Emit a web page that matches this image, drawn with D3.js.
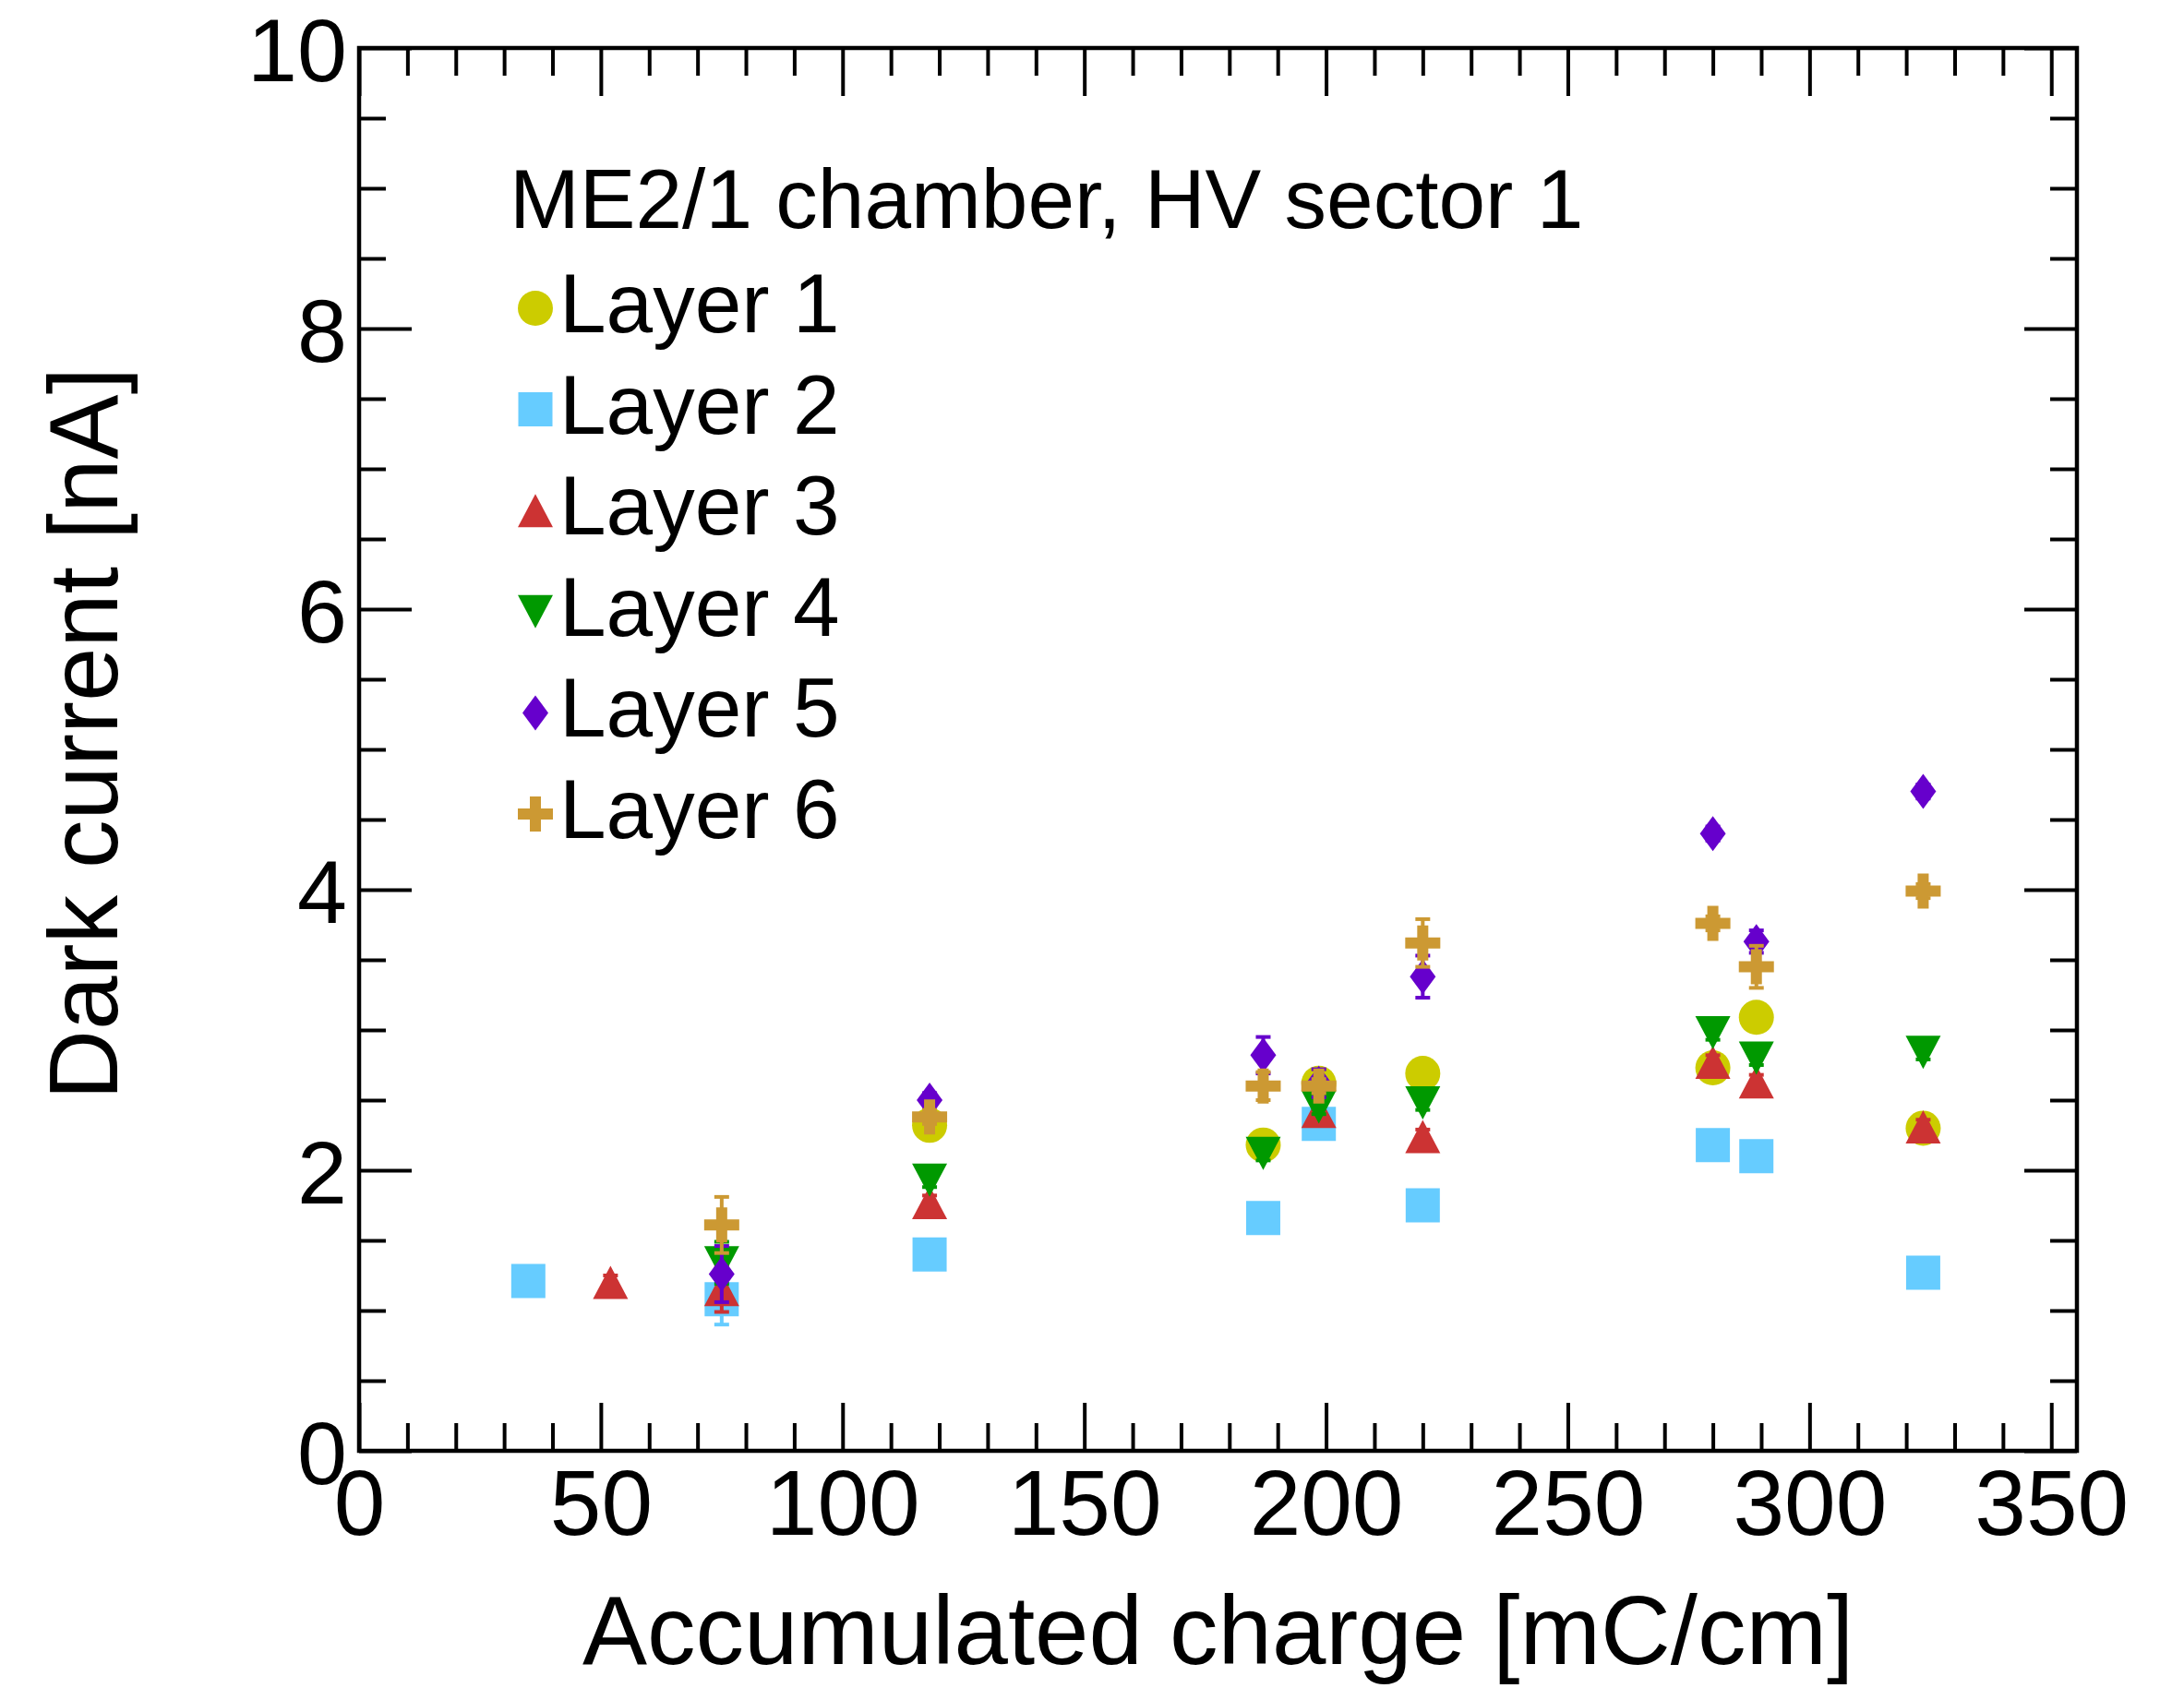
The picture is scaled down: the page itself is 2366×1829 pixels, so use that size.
<!DOCTYPE html>
<html>
<head>
<meta charset="utf-8">
<script src="https://cdn.jsdelivr.net/npm/d3@7"></script>
<style>
  body { margin: 0; background: #fff; }
  text { font-family: "Liberation Sans", Arial, Helvetica, sans-serif; fill: #000; }
</style>
</head>
<body>
<svg id="chart" width="2366" height="1829"></svg>
<script>
// Dark current of each layer versus accumulated charge (ME2/1, HV sector 1)
const layerNames = ["Layer 1", "Layer 2", "Layer 3", "Layer 4", "Layer 5", "Layer 6"];
const layerColors = ["#cccc00", "#66ccff", "#cc3333", "#009900", "#6600cc", "#cc9933"];
const layerShapes = ["circle", "square", "triUp", "triDown", "diamond", "cross"];

// accumulated charge [mC/cm], dark current [nA], current uncertainty [nA]
const layer1Charge = [118, 187, 198.5, 220, 280, 289, 323.5];
const layer1Current = [2.32, 2.18, 2.62, 2.69, 2.73, 3.09, 2.30];
const layer1Error = [0.05, 0.05, 0.05, 0.05, 0.05, 0.05, 0.05];

const layer2Charge = [35, 75, 118, 187, 198.5, 220, 280, 289, 323.5];
const layer2Current = [1.21, 1.08, 1.40, 1.66, 2.33, 1.75, 2.18, 2.10, 1.27];
const layer2Error = [0.05, 0.18, 0.05, 0.05, 0.05, 0.05, 0.05, 0.05, 0.05];

const layer3Charge = [52, 75, 118, 198.5, 220, 280, 289, 323.5];
const layer3Current = [1.20, 1.15, 1.77, 2.42, 2.24, 2.77, 2.63, 2.31];
const layer3Error = [0.05, 0.16, 0.05, 0.05, 0.05, 0.05, 0.05, 0.05];

const layer4Charge = [75, 118, 187, 198.5, 220, 280, 289, 323.5];
const layer4Current = [1.34, 1.93, 2.12, 2.45, 2.48, 2.98, 2.80, 2.84];
const layer4Error = [0.15, 0.05, 0.05, 0.05, 0.05, 0.05, 0.05, 0.05];

const layer5Charge = [75, 118, 187, 198.5, 220, 280, 289, 323.5];
const layer5Current = [1.26, 2.50, 2.82, 2.62, 3.38, 4.40, 3.63, 4.70];
const layer5Error = [0.2, 0.05, 0.13, 0.1, 0.15, 0.05, 0.08, 0.05];

const layer6Charge = [75, 118, 187, 198.5, 220, 280, 289, 323.5];
const layer6Current = [1.61, 2.38, 2.60, 2.60, 3.62, 3.76, 3.45, 3.99];
const layer6Error = [0.2, 0.05, 0.1, 0.05, 0.17, 0.05, 0.15, 0.05];

const xMajorTicks = [0, 50, 100, 150, 200, 250, 300, 350];
const yMajorTicks = [0, 2, 4, 6, 8, 10];

const chargeSets = [layer1Charge, layer2Charge, layer3Charge, layer4Charge, layer5Charge, layer6Charge];
const currentSets = [layer1Current, layer2Current, layer3Current, layer4Current, layer5Current, layer6Current];
const errorSets = [layer1Error, layer2Error, layer3Error, layer4Error, layer5Error, layer6Error];

const series = layerNames.map((name, i) => ({
  name, color: layerColors[i], shape: layerShapes[i],
  points: chargeSets[i].map((c, j) => ({ x: c, y: currentSets[i][j], e: errorSets[i][j] }))
}));

const frame = { left: 389, right: 2250, top: 52, bottom: 1572 };
const x = d3.scaleLinear().domain([0, 355.3]).range([frame.left, frame.right]);
const y = d3.scaleLinear().domain([0, 10]).range([frame.bottom, frame.top]);

const svg = d3.select("#chart");
svg.append("rect").attr("width", 2366).attr("height", 1829).attr("fill", "#fff");

// marker outlines centred on (0,0)
function shapePath(shape) {
  switch (shape) {
    case "square": return "M-18.5,-18.5h37v37h-37Z";
    case "triUp": return "M0,-18L19,18L-19,18Z";
    case "triDown": return "M0,18L19,-18L-19,-18Z";
    case "diamond": return "M0,-19L14,0L0,19L-14,0Z";
    case "cross": return "M-6,-19h12v13h13v12h-13v13h-12v-13h-13v-12h13Z";
    default: return d3.arc()({ innerRadius: 0, outerRadius: 19, startAngle: 0, endAngle: 2 * Math.PI });
  }
}

// axes with inward ticks on all four sides
const xMinor = d3.range(0, 356, 10).filter(v => v % 50 !== 0);
const yMinor = d3.range(0, 10.01, 0.5).filter(v => Math.abs(v / 2 - Math.round(v / 2)) > 1e-6);

function styleAxis(g, size) {
  g.select(".domain").remove();
  g.selectAll(".tick line").attr("stroke", "#000").attr("stroke-width", 4);
  g.selectAll("text").attr("font-family", null).style("font-size", (size || 100) + "px").attr("fill", "#000");
}

svg.append("g").attr("transform", `translate(0,${frame.bottom})`)
  .call(d3.axisBottom(x).tickValues(xMajorTicks).tickSize(-52).tickPadding(20).tickFormat(d3.format("d")))
  .call(styleAxis);
svg.append("g").attr("transform", `translate(0,${frame.bottom})`)
  .call(d3.axisBottom(x).tickValues(xMinor).tickSize(-30).tickFormat(""))
  .call(styleAxis);
svg.append("g").attr("transform", `translate(0,${frame.top})`)
  .call(d3.axisTop(x).tickValues(xMajorTicks).tickSize(-52).tickFormat(""))
  .call(styleAxis);
svg.append("g").attr("transform", `translate(0,${frame.top})`)
  .call(d3.axisTop(x).tickValues(xMinor).tickSize(-30).tickFormat(""))
  .call(styleAxis);

const yLabels = svg.append("g").attr("transform", `translate(${frame.left},0)`)
  .call(d3.axisLeft(y).tickValues(yMajorTicks).tickSize(-57).tickPadding(13).tickFormat(d3.format("d")))
  .call(styleAxis, 97);
yLabels.selectAll("text").attr("dy", "0.37em");
svg.append("g").attr("transform", `translate(${frame.left},0)`)
  .call(d3.axisLeft(y).tickValues(yMinor).tickSize(-29).tickFormat(""))
  .call(styleAxis);
svg.append("g").attr("transform", `translate(${frame.right},0)`)
  .call(d3.axisRight(y).tickValues(yMajorTicks).tickSize(-57).tickFormat(""))
  .call(styleAxis);
svg.append("g").attr("transform", `translate(${frame.right},0)`)
  .call(d3.axisRight(y).tickValues(yMinor).tickSize(-29).tickFormat(""))
  .call(styleAxis);

svg.append("rect")
  .attr("x", frame.left).attr("y", frame.top)
  .attr("width", frame.right - frame.left).attr("height", frame.bottom - frame.top)
  .attr("fill", "none").attr("stroke", "#000").attr("stroke-width", 4.5);

// axis titles
svg.append("text")
  .attr("x", (frame.left + frame.right) / 2).attr("y", 1803)
  .attr("text-anchor", "middle").style("font-size", "105px")
  .text("Accumulated charge [mC/cm]");
svg.append("text")
  .attr("transform", "translate(127,795) rotate(-90)")
  .attr("text-anchor", "middle").style("font-size", "105px")
  .text("Dark current [nA]");

// data: each layer draws its error bars, then its markers
const capHalf = 8;
series.forEach(s => {
  const g = svg.append("g").attr("class", "layer");
  const err = g.selectAll("g.err").data(s.points).join("g").attr("class", "err")
    .attr("stroke", s.color).attr("stroke-width", 4);
  err.append("line")
    .attr("x1", d => x(d.x)).attr("x2", d => x(d.x))
    .attr("y1", d => y(d.y - d.e)).attr("y2", d => y(d.y + d.e));
  err.append("line")
    .attr("x1", d => x(d.x) - capHalf).attr("x2", d => x(d.x) + capHalf)
    .attr("y1", d => y(d.y - d.e)).attr("y2", d => y(d.y - d.e));
  err.append("line")
    .attr("x1", d => x(d.x) - capHalf).attr("x2", d => x(d.x) + capHalf)
    .attr("y1", d => y(d.y + d.e)).attr("y2", d => y(d.y + d.e));
  g.selectAll("path.marker").data(s.points).join("path").attr("class", "marker")
    .attr("d", shapePath(s.shape))
    .attr("transform", d => `translate(${x(d.x)},${y(d.y)})`)
    .attr("fill", s.color);
});

// legend
const legend = svg.append("g");
legend.append("text").attr("x", 552).attr("y", 247).style("font-size", "91px")
  .text("ME2/1 chamber, HV sector 1");
series.forEach((s, i) => {
  const base = 360 + i * 109.6;
  legend.append("path").attr("d", shapePath(s.shape))
    .attr("transform", `translate(580,${base - 26})`).attr("fill", s.color);
  legend.append("text").attr("x", 606).attr("y", base).style("font-size", "91px").text(s.name);
});
</script>
</body>
</html>
